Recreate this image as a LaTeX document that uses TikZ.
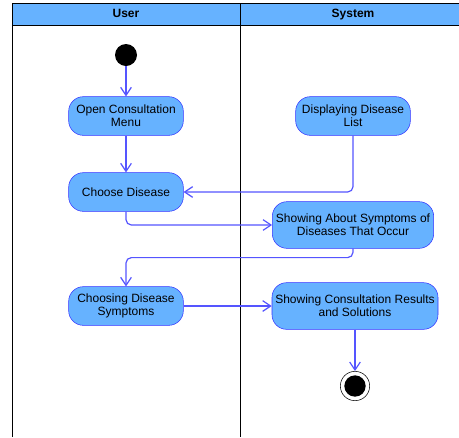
\documentclass[tikz,border=0pt]{standalone}
\usepackage{fontspec}
\setmainfont{Liberation Sans}
\usetikzlibrary{arrows.meta}
\definecolor{lanefill}{HTML}{66B2FF}
\definecolor{actline}{HTML}{3333FF}
\definecolor{flowline}{HTML}{5555FF}
\begin{document}
\begin{tikzpicture}[x=0.75pt, y=-0.75pt, every node/.style={font=\fontsize{9}{9.75}\selectfont},
  lane/.style={font=\fontsize{9}{9.75}\selectfont\bfseries,text height=6.5pt,text depth=1.5pt},
  act/.style={draw=actline,fill=lanefill,rounded corners=11pt,minimum width=86pt,minimum height=29pt,align=center,inner sep=2pt},
  flow/.style={draw=flowline,line width=0.9pt,rounded corners=4pt,-{Straight Barb[length=6pt,width=8pt]}}]
\useasboundingbox (0,0) rectangle (459,437);
% lanes
\fill[lanefill] (12,3) rectangle (459,25);
\draw (12,437) -- (12,3) -- (459,3);
\draw (12,25) -- (459,25);
\draw (240,3) -- (240,437);
\node[lane] (user) at (126,14) {User};
\node[lane] (system) at (353,14) {System};
% activities
\node[circle,fill=black,minimum size=16.5pt,inner sep=0pt] (start) at (126,55) {};
\node[act] (open) at (126,116) {Open Consultation\\Menu};
\node[act] (display) at (353,116) {Displaying Disease\\List};
\node[act] (choose) at (126,192) {Choose Disease};
\node[act,minimum width=121pt,minimum height=35pt] (symptoms) at (353,225) {Showing About Symptoms of\\Diseases That Occur};
\node[act] (choosing) at (126,306) {Choosing Disease\\Symptoms};
\node[act,minimum width=124.5pt,minimum height=35pt] (results) at (355,306) {Showing Consultation Results\\and Solutions};
\node[circle,draw=black,fill=white,minimum size=22pt,inner sep=0pt] (end) at (355,386) {};
\fill[black] (end.center) circle (8pt);
% flows
\draw[flow] (start) -- (open);
\draw[flow] (open) -- (choose);
\draw[flow] (display.south) |- (choose.east);
\draw[flow] (choose.south) |- (symptoms.west);
\draw[flow] (symptoms.south) -- ++(0,9) -| (choosing.north);
\draw[flow] (choosing) -- (results);
\draw[flow] (results) -- (end);
\end{tikzpicture}
\end{document}
